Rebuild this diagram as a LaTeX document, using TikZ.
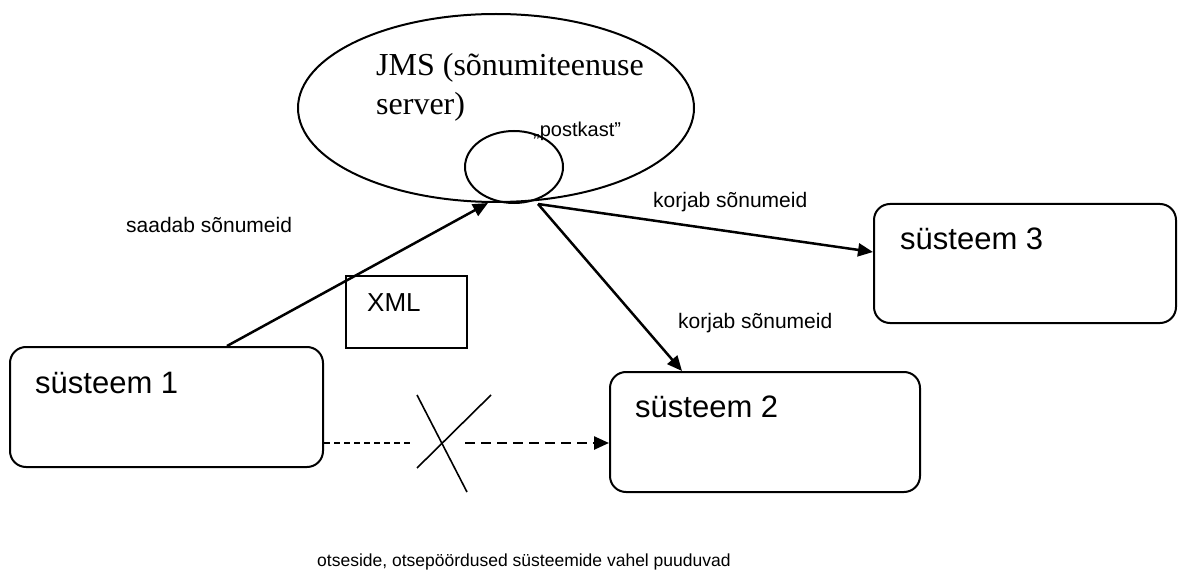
\documentclass[tikz,border=0pt]{standalone}
\usepackage{fontspec}
\setmainfont{Liberation Sans}
\newfontfamily\serifjms{Liberation Serif}
\usetikzlibrary{shapes.geometric,arrows.meta}

\tikzset{
  outline/.style={draw=black, line width=2pt},
  sysbox/.style={outline, rounded corners=16pt, inner sep=0pt},
  oval/.style={outline, ellipse, inner sep=0pt},
  tip/.style={-{Triangle[length=15pt,width=13pt]}},
  link/.style={line width=2.5pt, tip},
  txt/.style={anchor=base west, inner sep=0pt},
  lbl/.style={txt, font=\fontsize{21}{25}\selectfont},
  systxt/.style={txt, font=\fontsize{31}{37}\selectfont},
  cross/.style={line width=1.6pt},
}

\begin{document}
\begin{tikzpicture}[x=1pt, y=-1pt]
\useasboundingbox (0,0) rectangle (1178,572);

% message server and its mailbox
\node[oval, minimum width=396pt, minimum height=188pt] (jms) at (496,108) {};
\node[oval, minimum width=98pt, minimum height=72pt] (post) at (514,167) {};
\node[txt, font=\serifjms\fontsize{32}{38}\selectfont] (jmsA) at (376,76) {JMS (sõnumiteenuse};
\node[txt, font=\serifjms\fontsize{32}{38}\selectfont] (jmsB) at (376,115) {server)};
\node[txt, font=\fontsize{20}{24}\selectfont] (postlbl) at (533,137) {„postkast”};

% systems
\node[sysbox, minimum width=313pt, minimum height=120pt] (s1) at (166.5,407) {};
\node[sysbox, minimum width=310pt, minimum height=120pt] (s2) at (765,432) {};
\node[sysbox, minimum width=302pt, minimum height=119pt] (s3) at (1025,263.5) {};
\node[systxt] (s1t) at (35,393) {süsteem 1};
\node[systxt] (s2t) at (635,417) {süsteem 2};
\node[systxt] (s3t) at (900,249) {süsteem 3};

% message document
\node[outline, minimum width=121pt, minimum height=72pt, inner sep=0pt] (xml) at (406.5,312) {};
\node[txt, font=\fontsize{26}{31}\selectfont] (xmlt) at (367,311) {XML};

% connection points
\coordinate (send) at (s1.north -| 227,0);
\coordinate (inbox) at (488,203);
\coordinate (outbox) at (538,204);
\coordinate (in3) at (s3.west |- 0,252);
\coordinate (in2) at (s2.north -| 682,0);
\coordinate (d1) at (s1.east |- 0,443);
\coordinate (d2) at (s2.west |- 0,443);
\coordinate (dstop) at (413,443);
\coordinate (dstart) at (465,443);
\coordinate (xa) at (417,395);
\coordinate (xb) at (467,492);
\coordinate (xc) at (491,395);
\coordinate (xd) at (417,468);

\draw[link] (send) -- (inbox);
\draw[link] (outbox) -- (in3);
\draw[link] (outbox) -- (in2);

% direct link that does not exist
\draw[line width=1.5pt, dash pattern=on 6pt off 4pt] (d1) -- (dstop);
\draw[line width=2.5pt, dash pattern=on 10pt off 6pt, tip] (dstart) -- (d2);
\draw[cross] (xa) -- (xb);
\draw[cross] (xc) -- (xd);

% labels
\node[lbl] (send lbl) at (126,233) {saadab sõnumeid};
\node[lbl] (get3 lbl) at (653,208) {korjab sõnumeid};
\node[lbl] (get2 lbl) at (678,328) {korjab sõnumeid};
\node[txt, font=\fontsize{17.5}{21}\selectfont] (note) at (317,566) {otseside, otsepöördused süsteemide vahel puuduvad};
\end{tikzpicture}
\end{document}
